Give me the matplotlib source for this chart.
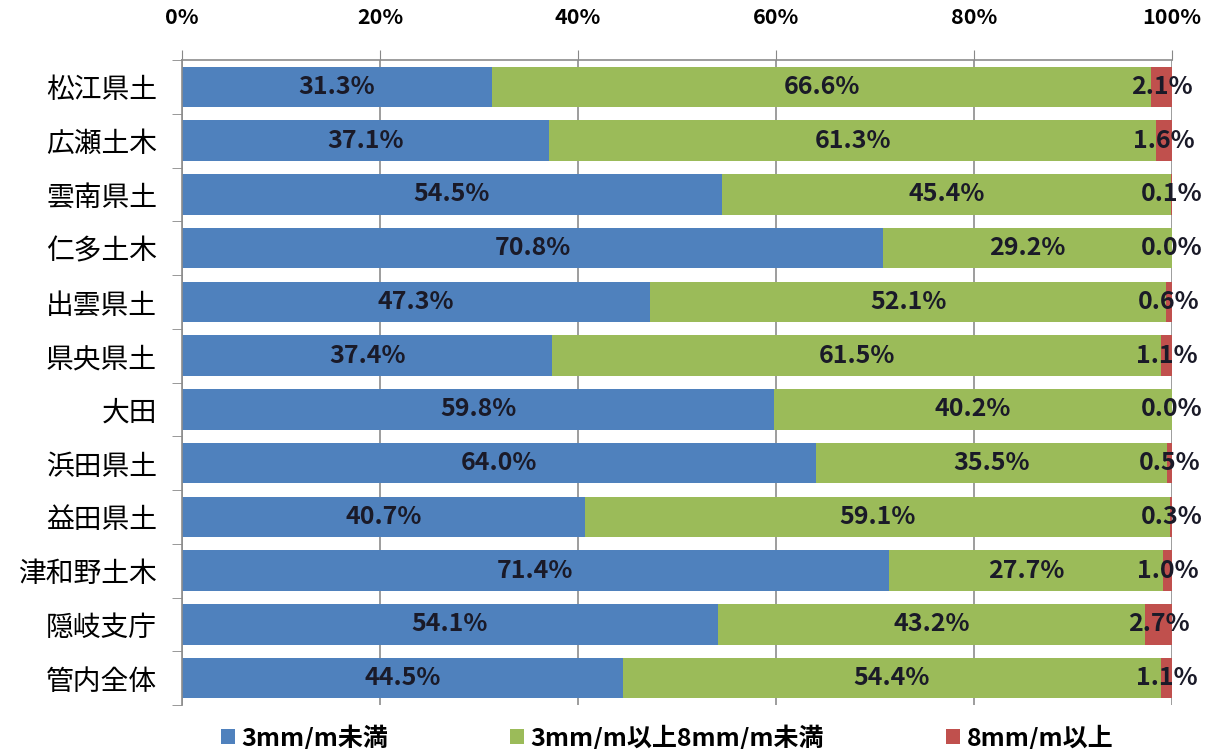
import matplotlib
matplotlib.use("Agg")
import matplotlib.pyplot as plt
import numpy as np

plt.rcParams['font.family'] = ['Noto Sans CJK JP', 'DejaVu Sans']

offices = ["松江県土", "広瀬土木", "雲南県土", "仁多土木", "出雲県土", "県央県土",
           "大田", "浜田県土", "益田県土", "津和野土木", "隠岐支庁", "管内全体"]
below3 = [31.3, 37.1, 54.5, 70.8, 47.3, 37.4, 59.8, 64.0, 40.7, 71.4, 54.1, 44.5]
mid3to8 = [66.6, 61.3, 45.4, 29.2, 52.1, 61.5, 40.2, 35.5, 59.1, 27.7, 43.2, 54.4]
over8 = [2.1, 1.6, 0.1, 0.0, 0.6, 1.1, 0.0, 0.5, 0.3, 1.0, 2.7, 1.1]
series_names = ["3mm/m未満", "3mm/m以上8mm/m未満", "8mm/m以上"]
colors = ["#4F81BD", "#9BBB59", "#C0504D"]

fig = plt.figure(figsize=(12.15, 7.49), dpi=100)
ax = fig.add_axes([0.1498, 0.0587, 0.8148, 0.8612])

y = np.arange(len(offices))
left = np.zeros(len(offices))
for vals, name, col in zip([below3, mid3to8, over8], series_names, colors):
    vals = np.array(vals)
    ax.barh(y, vals, left=left, height=0.75, color=col, label=name, zorder=2)
    for yi, l, v in zip(y, left, vals):
        ax.text(l + v / 2, yi, f"{v:.1f}%", ha="center", va="center",
                fontsize=18, fontweight="bold", color="#1a1a28", zorder=3)
    left = left + vals

ax.set_xlim(0, 100)
ax.set_ylim(len(offices) - 0.5, -0.5)
ax.xaxis.tick_top()
ax.set_xticks(np.arange(0, 101, 20))
ax.set_xticklabels([f"{v}%" for v in range(0, 101, 20)], fontsize=15.5, fontweight="bold")
ax.tick_params(axis="x", direction="out", length=7, color="#888888", pad=16)
ax.grid(axis="x", color="#8c8c8c", linewidth=1.2, zorder=0)

ax.set_yticks(y)
ax.set_yticklabels(offices, fontsize=20)
ax.tick_params(axis="y", which="major", length=0, pad=18)
ax.set_yticks(np.arange(-0.5, len(offices)), minor=True)
ax.tick_params(axis="y", which="minor", length=7, color="#888888")

for side in ["bottom", "right"]:
    ax.spines[side].set_visible(False)
for side in ["top", "left"]:
    ax.spines[side].set_color("#8c8c8c")
    ax.spines[side].set_linewidth(1.2)

leg = ax.legend(loc="upper center", bbox_to_anchor=(0.49, 0.005), ncol=3,
                frameon=False, fontsize=18, handlelength=0.55, handleheight=0.55,
                handletextpad=0.25, columnspacing=4.9)
for t in leg.get_texts():
    t.set_fontweight("bold")

fig.savefig("out.png", dpi=100)
